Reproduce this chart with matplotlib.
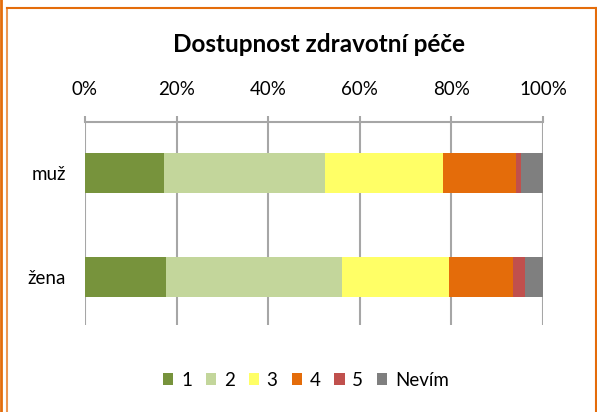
import matplotlib
matplotlib.use("Agg")
import matplotlib.pyplot as plt
from matplotlib.lines import Line2D
from matplotlib.patches import Patch

# data
categories = ["muž", "žena"]
series = ["1", "2", "3", "4", "5", "Nevím"]
values = {
    "1": [17.2, 17.7],
    "2": [35.2, 38.5],
    "3": [25.7, 23.2],
    "4": [15.9, 14.1],
    "5": [1.2, 2.6],
    "Nevím": [4.8, 3.9],
}
colors = ["#77933C", "#C3D69B", "#FFFF66", "#E46C0A", "#C0504D", "#7F7F7F"]
tick_values = [0, 20, 40, 60, 80, 100]

plt.rcParams["font.family"] = ["Lato", "DejaVu Sans"]

W, H = 597, 412
fig = plt.figure(figsize=(W / 100, H / 100), dpi=100)

# axes placement in pixels
left, right, top, bottom = 85, 543, 122, 325
ax = fig.add_axes([left / W, 1 - bottom / H, (right - left) / W, (bottom - top) / H])

y = list(range(len(categories)))
start = [0] * len(categories)
for name, col in zip(series, colors):
    ax.barh(y, values[name], left=start, height=0.385, color=col, label=name, zorder=3)
    start = [s + v for s, v in zip(start, values[name])]

ax.set_xlim(0, 100)
ax.set_ylim(1.46, -0.49)
ax.set_xticks(tick_values)
ax.set_xticklabels([f"{t}%" for t in tick_values], fontsize=13.5)
ax.xaxis.tick_top()
ax.tick_params(axis="x", length=4, width=1.5, color="#A6A6A6", pad=13)
ax.set_yticks(y)
ax.set_yticklabels(categories, fontsize=13.5)
ax.tick_params(axis="y", length=0, pad=13.5)
ax.grid(axis="x", color="#A6A6A6", linewidth=1.5, zorder=0)
for s in ["bottom", "left", "right"]:
    ax.spines[s].set_visible(False)
ax.spines["top"].set_color("#A6A6A6")
ax.spines["top"].set_linewidth(1.5)

fig.text(319 / W, 1 - 45 / H, "Dostupnost zdravotní péče", ha="center", va="center",
         fontsize=17.5, fontweight="bold")

handles = [Patch(facecolor=c, label=n) for n, c in zip(series, colors)]
fig.legend(handles=handles, loc="center", bbox_to_anchor=(306 / W, 1 - 380 / H), ncol=6,
           frameon=False, fontsize=13.5, handlelength=0.55, handleheight=0.55,
           handletextpad=0.4, columnspacing=0.75)

# orange chart frame
orange = "#E46C0A"
fig.add_artist(Line2D([6.5 / W, 6.5 / W], [0, 1 - 8 / H], color=orange, lw=1.5, alpha=0.7))
fig.add_artist(Line2D([6.5 / W, 596 / W], [1 - 8 / H, 1 - 8 / H], color=orange, lw=1.5))
fig.add_artist(Line2D([596 / W, 596 / W], [0, 1 - 8 / H], color=orange, lw=1.5))
fig.add_artist(Line2D([1 / W, 1 / W], [0, 1], color=orange, lw=2))

fig.savefig("out.png", dpi=100)
